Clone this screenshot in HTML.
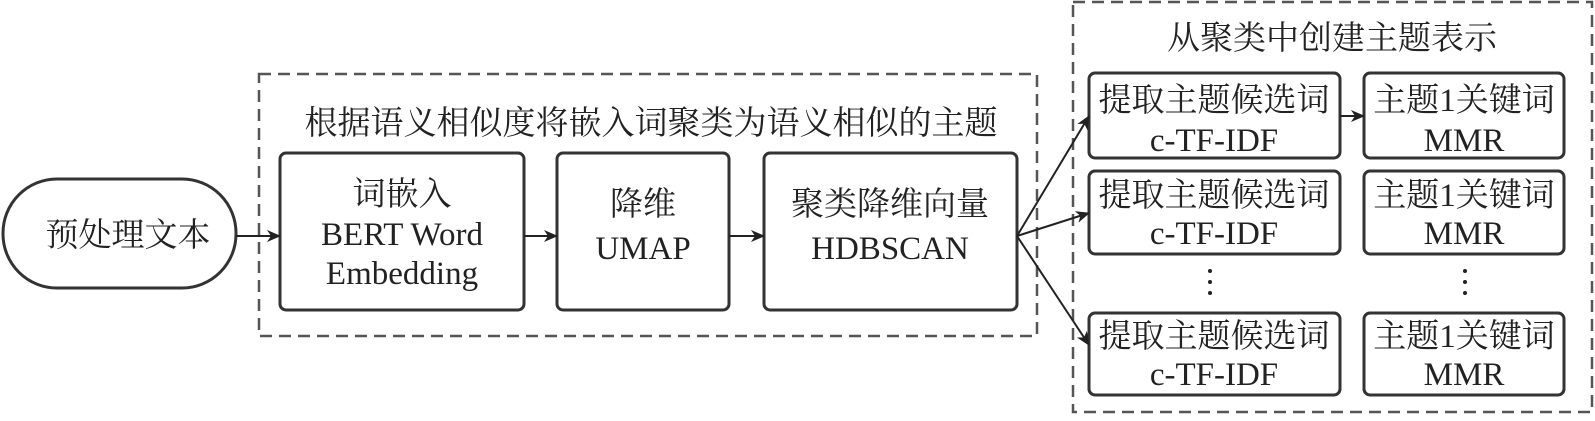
<!DOCTYPE html>
<html><head><meta charset="utf-8"><style>
body{margin:0;background:#fff}
svg text{font-family:"Liberation Serif","Noto Serif CJK SC",serif;fill:#222;font-size:33px;text-anchor:middle}
</style></head><body>
<svg width="1595" height="416" xmlns="http://www.w3.org/2000/svg">
<defs><marker id="a" markerWidth="14" markerHeight="12" refX="13" refY="6" orient="auto" markerUnits="userSpaceOnUse"><path d="M0,0 L14,6 L0,12 L4,6z" fill="#222"/></marker></defs>
<g fill="none" stroke="#555" stroke-width="2.5" stroke-dasharray="12,7">
<rect x="259" y="74" width="778" height="262"/>
<rect x="1073" y="2" width="519" height="410"/>
</g>
<g fill="#fff" stroke="#333" stroke-width="3">
<rect x="3" y="179" width="233" height="109" rx="54"/>
<rect x="280" y="153" width="244" height="157" rx="6"/>
<rect x="557" y="153" width="172" height="157" rx="6"/>
<rect x="764" y="153" width="253" height="157" rx="6"/>
<rect x="1089" y="73" width="251" height="85" rx="6"/>
<rect x="1089" y="171" width="251" height="83" rx="6"/>
<rect x="1089" y="313" width="251" height="82" rx="6"/>
<rect x="1364" y="73" width="200" height="85" rx="6"/>
<rect x="1364" y="171" width="200" height="83" rx="6"/>
<rect x="1364" y="313" width="200" height="82" rx="6"/>
</g>
<g stroke="#222" stroke-width="2" marker-end="url(#a)">
<line x1="236" y1="236" x2="280" y2="236"/>
<line x1="524" y1="236" x2="557" y2="236"/>
<line x1="729" y1="236" x2="764" y2="236"/>
<line x1="1017" y1="236" x2="1089" y2="116"/>
<line x1="1017" y1="236" x2="1089" y2="213"/>
<line x1="1017" y1="236" x2="1089" y2="345"/>
<line x1="1340" y1="116" x2="1364" y2="116"/>
</g>
<g fill="#222"><circle cx="1210" cy="271" r="2"/><circle cx="1210" cy="282" r="2"/><circle cx="1210" cy="293" r="2"/>
<circle cx="1465" cy="271" r="2"/><circle cx="1465" cy="282" r="2"/><circle cx="1465" cy="293" r="2"/></g>
<text x="128" y="246">预处理文本</text>
<text x="651" y="134">根据语义相似度将嵌入词聚类为语义相似的主题</text>
<text x="1332" y="49">从聚类中创建主题表示</text>
<text x="402" y="205">词嵌入</text><text x="402" y="245">BERT Word</text><text x="402" y="284">Embedding</text>
<text x="643" y="215">降维</text><text x="643" y="259">UMAP</text>
<text x="890" y="215">聚类降维向量</text><text x="890" y="259">HDBSCAN</text>
<g>
<text x="1214" y="111">提取主题候选词</text><text x="1214" y="151">c-TF-IDF</text>
<text x="1214" y="206">提取主题候选词</text><text x="1214" y="244">c-TF-IDF</text>
<text x="1214" y="347">提取主题候选词</text><text x="1214" y="385">c-TF-IDF</text>
<text x="1464" y="111">主题1关键词</text><text x="1464" y="151">MMR</text>
<text x="1464" y="206">主题1关键词</text><text x="1464" y="244">MMR</text>
<text x="1464" y="347">主题1关键词</text><text x="1464" y="385">MMR</text>
</g>
</svg>
</body></html>
